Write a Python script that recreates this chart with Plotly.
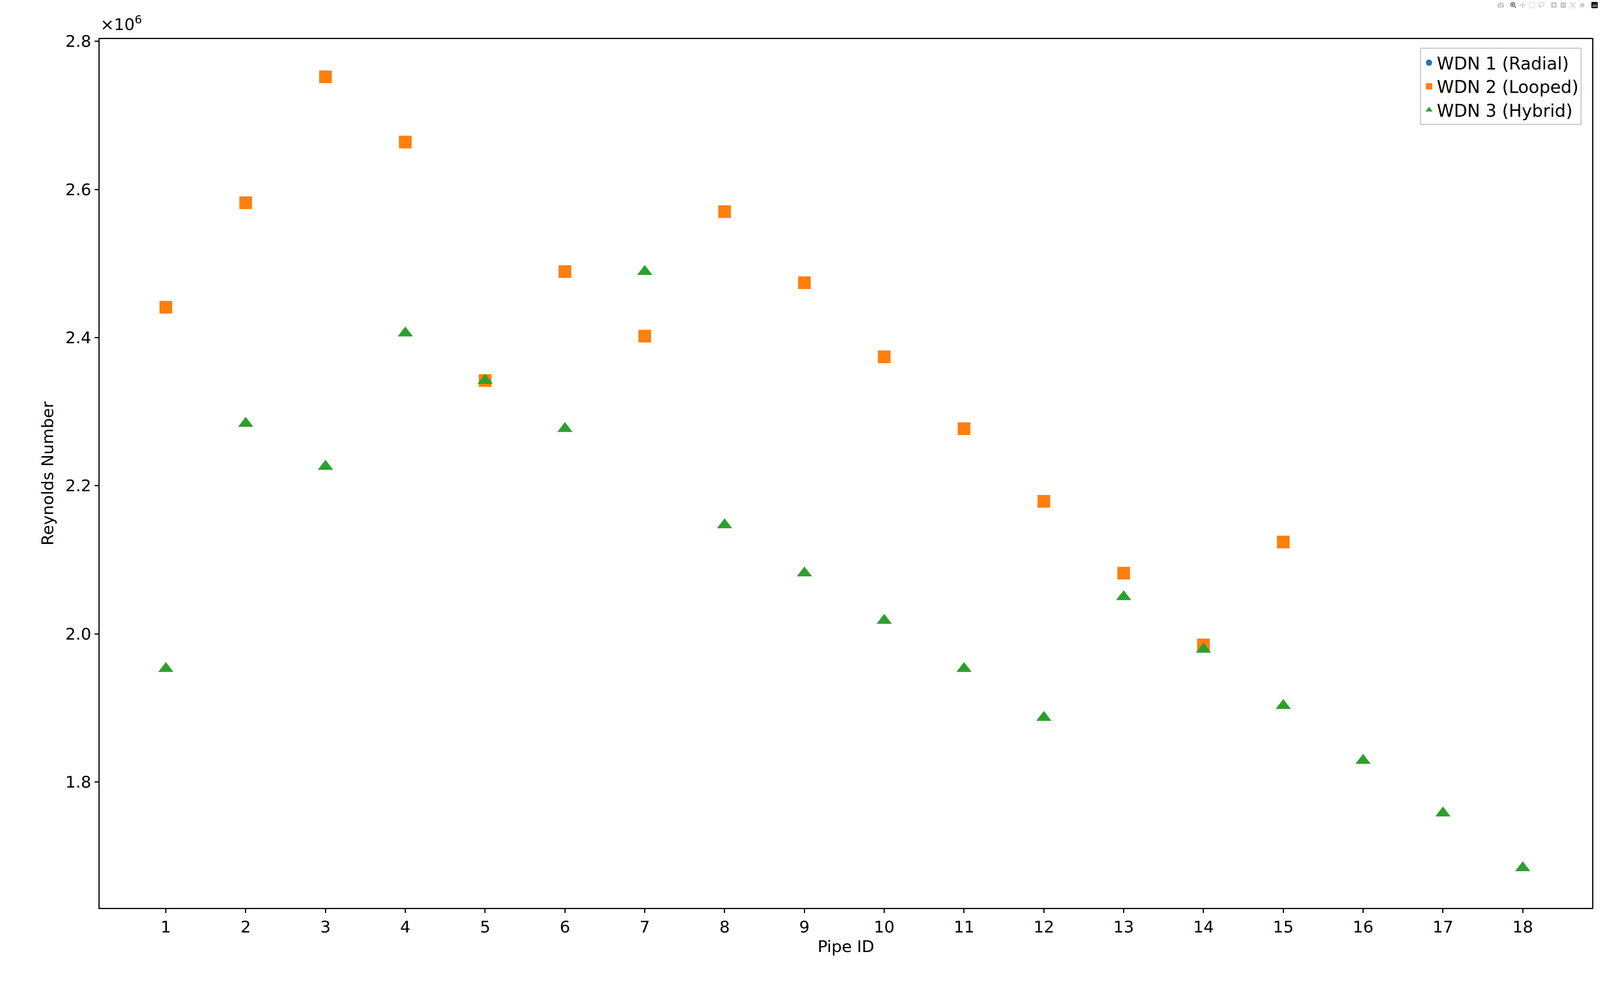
import plotly.graph_objects as go

pipes2 = list(range(1, 16))
wdn1 = [2.441, 2.582, 2.752, 2.664, 2.342, 2.489, 2.402, 2.570, 2.474, 2.374, 2.277, 2.179, 2.082, 1.985, 2.124]
wdn2 = [2.441, 2.582, 2.752, 2.664, 2.342, 2.489, 2.402, 2.570, 2.474, 2.374, 2.277, 2.179, 2.082, 1.985, 2.124]
pipes3 = list(range(1, 19))
wdn3 = [1.953, 2.284, 2.226, 2.406, 2.342, 2.277, 2.489, 2.147, 2.082, 2.018, 1.953, 1.887, 2.050, 1.979, 1.903, 1.829, 1.758, 1.684]

S = 2.6
fig = go.Figure()
fig.add_trace(go.Scatter(x=pipes2, y=[v * 1e6 for v in wdn1], mode="markers", name="WDN 1 (Radial)",
                         marker=dict(symbol="circle", color="#1f77b4", size=12 * S)))
fig.add_trace(go.Scatter(x=pipes2, y=[v * 1e6 for v in wdn2], mode="markers", name="WDN 2 (Looped)",
                         marker=dict(symbol="square", color="#ff7f0e", size=12.5 * S)))
fig.add_trace(go.Scatter(x=pipes3, y=[v * 1e6 for v in wdn3], mode="markers", name="WDN 3 (Hybrid)",
                         marker=dict(symbol="triangle-up", color="#2ca02c", size=13 * S)))

font = dict(family="DejaVu Sans", size=16 * S, color="black")
axis = dict(showline=True, linecolor="black", linewidth=2.5, mirror=True, ticks="outside",
            ticklen=4 * S, tickwidth=2.5, tickcolor="black", showgrid=False, zeroline=False,
            tickfont=font)
fig.update_layout(
    autosize=True, plot_bgcolor="white", paper_bgcolor="white", font=font,
    margin=dict(l=255, r=20, t=100, b=200),
    xaxis=dict(axis, range=[0.17, 18.87], tickmode="array", tickvals=pipes3,
               title=dict(text="Pipe ID", font=font, standoff=12)),
    yaxis=dict(axis, range=[1.63e6, 2.803e6], tickmode="array",
               tickvals=[1.8e6, 2.0e6, 2.2e6, 2.4e6, 2.6e6, 2.8e6],
               ticktext=["1.8", "2.0", "2.2", "2.4", "2.6", "2.8"],
               title=dict(text="Reynolds Number", font=font, standoff=18)),
    legend=dict(x=0.993, y=0.99, xanchor="right", yanchor="top", bordercolor="#cccccc",
                borderwidth=3, bgcolor="white", font=dict(family="DejaVu Sans", size=17 * S)),
    annotations=[dict(text="×10<sup>6</sup>", xref="paper", yref="paper", x=0, y=1.005,
                      xanchor="left", yanchor="bottom", showarrow=False, font=font)],
)
fig.write_html("out.html", default_width="100vw", default_height="100vh",
               post_script="document.body.style.margin='0';document.body.style.overflow='hidden';"
                           "window.dispatchEvent(new Event('resize'));",
               config={"responsive": True})
